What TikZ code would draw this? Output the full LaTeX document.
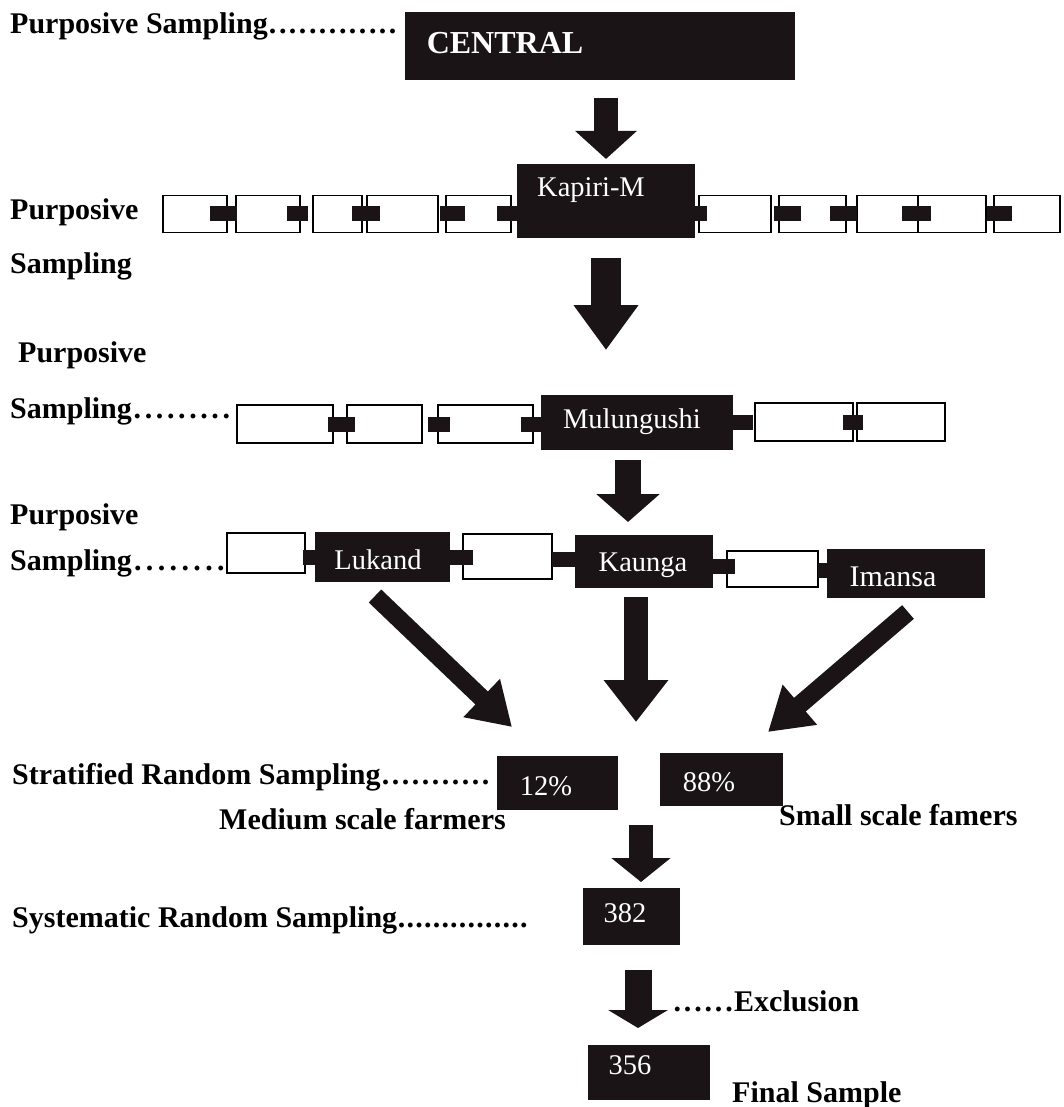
\documentclass[tikz,border=0pt]{standalone}
\usepackage{fontspec}
\setmainfont{Liberation Serif}
\usetikzlibrary{arrows.meta,calc}
\definecolor{ink}{RGB}{26,20,22}
\newcommand\dotrun[2]{\hbox to #1{\xleaders\hbox to \dimexpr#1/#2\relax{\hss.\hss}\hfill}}
\tikzset{
  bbox/.style={fill=ink, draw=none, inner sep=0pt, outer sep=0pt},
  wbox/.style={fill=white, draw=black, line width=1.4pt, inner sep=0pt, outer sep=0pt},
  btext/.style={text=white, font=\fontsize{28.5}{30}\selectfont, inner sep=0pt},
  lbl/.style={font=\fontsize{30}{33}\selectfont\bfseries, inner sep=0pt, anchor=base west},
  link/.style={draw=ink, line width=15pt},
  barrow/.style n args={3}{draw=ink, line width=#1, -{Triangle[width=#2, length=#3]}},
}
\begin{document}
\begin{tikzpicture}[x=1pt,y=-1pt]
\useasboundingbox[fill=white] (0,0) rectangle (1064,1107);

% ---------- row 0
\node[bbox, minimum width=390pt, minimum height=68pt] (central) at (600,46) {};
\node[btext, font=\fontsize{32}{34}\selectfont\bfseries] (centralT) at (505,43) {CENTRAL};
\node[lbl] (lab0) at (10,34) {Purposive Sampling\dotrun{130pt}{13}};

% ---------- row 1
\node[bbox, minimum width=178pt, minimum height=74pt] (kapiri) at (606,201) {};
\node[btext] (kapiriT) at (591,190) {Kapiri-M};
\foreach \n/\cx/\w in {L1/195/64, L2/268/64, L3/337.5/49, L4/402.5/71, L5/478.5/65,
                       R1/735/72, R2/812.5/67, R3/887.5/61, R4/952/68, R5/1027/66}
  \node[wbox, minimum width=\w pt, minimum height=37pt] (\n) at (\cx,214) {};
\draw[link] ($(L1.east)+(-17,0)$) -- ($(L2.west)+(1,0)$);
\draw[link] ($(L2.east)+(-13,0)$) -- ($(L3.west)+(-5,0)$);
\draw[link] ($(L3.east)+(-10,0)$) -- ($(L4.west)+(13,0)$);
\draw[link] ($(L4.east)+(2,0)$) -- ($(L5.west)+(19,0)$);
\draw[link] ($(L5.east)+(-14,0)$) -- (L5.east -| kapiri.west);
\draw[link] ($(R1.west -| kapiri.east)+(-2,0)$) -- ($(R1.west)+(8,0)$);
\draw[link] ($(R1.east)+(3,0)$) -- ($(R2.west)+(22,0)$);
\draw[link] ($(R2.east)+(-16,0)$) -- (R3.west);
\draw[link] ($(R3.east)+(-16,0)$) -- ($(R4.west)+(13,0)$);
\draw[link] ($(R4.east)+(1,0)$) -- ($(R5.west)+(18,0)$);
\node[lbl] (lab1a) at (10,220) {Purposive};
\node[lbl] (lab1b) at (10,273) {Sampling};

% ---------- row 2
\node[bbox, minimum width=192pt, minimum height=55pt] (mul) at (637,422.5) {};
\node[btext] (mulT) at (632,422) {Mulungushi};
\foreach \n/\cx/\cy/\w in {M1/285/424/96, M2/384.5/424/75, M3/485.5/424/95, M4/804/422/98, M5/901/422/88}
  \node[wbox, minimum width=\w pt, minimum height=38pt] (\n) at (\cx,\cy) {};
\draw[link] ($(M1.east)+(-5,0)$) -- ($(M2.west)+(8,0)$);
\draw[link] ($(M2.east)+(6,0)$) -- ($(M3.west)+(12,0)$);
\draw[link] ($(M3.east)+(-12,0)$) -- (M3.east -| mul.west);
\draw[link] (M4.west -| mul.east) -- ($(M4.west)+(-2,0)$);
\draw[link] ($(M4.east)+(-10,0)$) -- ($(M5.west)+(6,0)$);
\node[lbl] (lab2a) at (18,362) {Purposive};
\node[lbl] (lab2b) at (10,418) {Sampling\dotrun{100pt}{9}};

% ---------- row 3
\node[wbox, minimum width=78pt, minimum height=40pt] (N1) at (266,553) {};
\node[bbox, minimum width=135pt, minimum height=50pt] (lukand) at (382.5,557) {};
\node[btext] (lukandT) at (378,560) {Lukand};
\node[wbox, minimum width=89pt, minimum height=45pt] (N2) at (507.5,556.5) {};
\node[bbox, minimum width=138pt, minimum height=53pt] (kaunga) at (644,561.5) {};
\node[btext] (kaungaT) at (643,565) {Kaunga};
\node[wbox, minimum width=91pt, minimum height=36pt] (N3) at (772.5,569) {};
\node[bbox, minimum width=158pt, minimum height=49pt] (imansa) at (906,573.5) {};
\node[btext, font=\fontsize{30}{32}\selectfont] (imansaT) at (893,577) {Imansa};
\draw[link] ($(N1.east)+(-2,4)$) -- ($(N1.east -| lukand.west)+(0,4)$);
\draw[link] ($(lukand.east)+(-2,0)$) -- ($(lukand.east -| N2.west)+(10,0)$);
\draw[link] ($(N2.east)+(0,3)$) -- ($(N2.east -| kaunga.west)+(2,3)$);
\draw[link] ($(kaunga.east)+(-1,5)$) -- ($(kaunga.east -| N3.west)+(8,5)$);
\draw[link] ($(N3.east)+(0,1)$) -- ($(N3.east -| imansa.west)+(1,1)$);
\node[lbl] (lab3a) at (10,524) {Purposive};
\node[lbl] (lab3b) at (10,570) {Sampling\dotrun{95pt}{8}};

% ---------- row 4
\node[bbox, minimum width=121pt, minimum height=54pt] (p12) at (557.5,783) {};
\node[btext] (p12T) at (546,786) {12\%};
\node[bbox, minimum width=123pt, minimum height=53pt] (p88) at (721.5,779.5) {};
\node[btext] (p88T) at (709,782) {88\%};
\node[lbl] (lab4) at (12,784) {Stratified Random Sampling\dotrun{110pt}{11}};
\node[lbl] (med) at (219,829) {Medium scale farmers};
\node[lbl] (small) at (779,825) {Small scale famers};

% ---------- row 5
\node[bbox, minimum width=97pt, minimum height=57pt] (b382) at (631.5,916.5) {};
\node[btext] (b382T) at (625,913) {382};
\node[lbl] (lab5) at (12,927) {Systematic Random Sampling\dotrun{131pt}{15}};
\node[bbox, minimum width=122pt, minimum height=55pt] (b356) at (649,1072.5) {};
\node[btext] (b356T) at (630,1065) {356};
\node[lbl] (excl) at (672,1011) {\dotrun{62pt}{6}Exclusion};
\node[lbl] (final) at (732,1102) {Final Sample};

% ---------- block arrows
\draw[barrow={24pt}{60pt}{28pt}] ([yshift=-18pt]central.south -| kapiri.north) -- ([yshift=5pt]kapiri.north);
\draw[barrow={30pt}{62pt}{45pt}] ([yshift=-20pt]kapiri.south) -- ([yshift=45pt]kapiri.south |- mul.north);
\draw[barrow={26pt}{62pt}{28pt}] ($(mul.south)+(-9,10)$) -- ($(mul.south |- kaunga.north)+(-9,-13)$);
\draw[barrow={18pt}{50pt}{42pt}] ($(lukand.south)+(-7.5,14)$) -- ($(p12.north west)+(15,-29)$);
\draw[barrow={24pt}{62pt}{42pt}] ($(kaunga.south)+(-8,9)$) -- ($(kaunga.south |- p88.north)+(-8,-31)$);
\draw[barrow={18pt}{50pt}{42pt}] ($(imansa.south)+(2,14)$) -- ($(p88.north east)+(-15,-21)$);
\draw[barrow={24pt}{58pt}{24pt}] ($(b382.north)+(9.5,-63)$) -- ($(b382.north)+(9.5,-6)$);
\draw[barrow={27pt}{59pt}{18pt}] ($(b382.south)+(6.5,25)$) -- ($(b382.south |- b356.north)+(6.5,-17)$);
\end{tikzpicture}
\end{document}
